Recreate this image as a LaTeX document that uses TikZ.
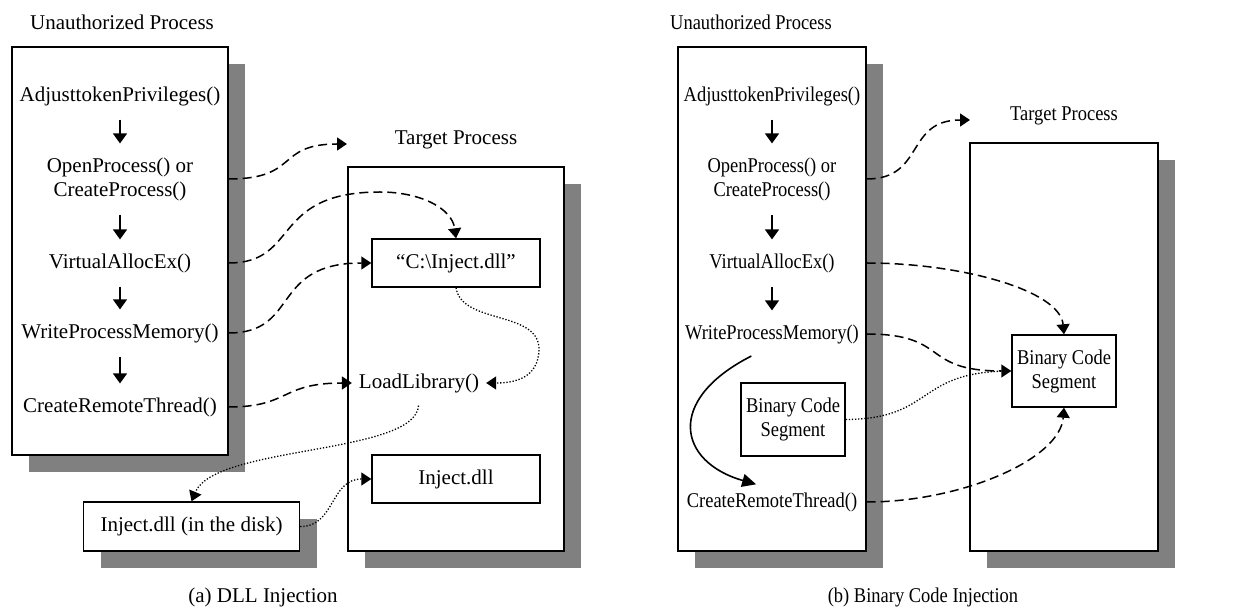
\documentclass[tikz,border=0pt]{standalone}
\usepackage{fontspec}
\setmainfont{Liberation Serif}
\newfontfamily\narrowfont[FakeStretch=0.88]{Liberation Serif}
\usepackage{tikz}
\usetikzlibrary{positioning, arrows.meta, shadows}
\tikzset{
  procbox/.style={rectangle, draw=black, line width=0.7pt, fill=white,
                  drop shadow={shadow xshift=8.5pt, shadow yshift=-8.5pt,
                               fill=black!50, opacity=1}},
  segbox/.style={rectangle, draw=black, line width=0.7pt, fill=white,
                 align=center, inner sep=2pt},
  call/.style={align=center},
  flow/.style={-{Triangle[length=5pt, width=7pt]}, line width=0.75pt,
               shorten <=3.5pt, shorten >=3.5pt},
  inj/.style={-{Triangle[length=5pt, width=6.5pt]}, line width=0.75pt,
              dash pattern=on 4.5pt off 2.5pt},
  ld/.style={-{Triangle[length=5pt, width=6.5pt]}, line width=0.65pt,
             dash pattern=on 0.65pt off 0.9pt},
}

\begin{document}
\begin{tikzpicture}[x=0.5pt, y=-0.5pt,
                    every node/.style={font=\fontsize{10.5}{12}\selectfont}]
    \useasboundingbox (0,0) rectangle (1242,608);

    % (a) DLL injection
    \node[procbox, minimum width=108pt, minimum height=204pt] (unauthA) at (120,251) {};
    \node (lblA) at (122,22) {Unauthorized Process};
    \node[procbox, minimum width=108pt, minimum height=192pt] (targetA) at (456,359) {};
    \node[above=5pt of targetA] (tlblA) {Target Process};

    \node[call] (adjA) at (120,96) {AdjusttokenPrivileges()};
    \node[call] (openA) at (120,179) {OpenProcess() or\\CreateProcess()};
    \node[call] (allocA) at (120,263) {VirtualAllocEx()};
    \node[call] (writeA) at (120,333) {WriteProcessMemory()};
    \node[call] (threadA) at (120,407) {CreateRemoteThread()};
    \draw[flow] (adjA) -- (openA);
    \draw[flow] (openA) -- (allocA);
    \draw[flow] (allocA) -- (writeA);
    \draw[flow] (writeA) -- (threadA);

    \node[segbox, minimum width=84pt, minimum height=24pt] (dllpath) at (456,263)
          {“C:\textbackslash Inject.dll”};
    \node (loadlib) at (419,383) {LoadLibrary()};
    \node[segbox, minimum width=84pt, minimum height=24pt] (dllmem) at (456,479) {Inject.dll};
    \node[segbox, minimum width=108pt, minimum height=24.5pt,
          drop shadow={shadow xshift=8.5pt, shadow yshift=-8.5pt, fill=black!50, opacity=1}]
          (dlldisk) at (191.5,526.5) {Inject.dll (in the disk)};

    \coordinate (openTipA) at (347,144);
    \draw[inj] (unauthA.east |- openA) .. controls (300,179) and (275,144) .. (openTipA);
    \draw[inj] (unauthA.east |- allocA) .. controls (300,263) and (270,192) .. (380,192)
               .. controls (420,192) and (452,208) .. (dllpath.north);
    \draw[inj] (unauthA.east |- writeA) .. controls (300,333) and (270,263) .. (dllpath.west);
    \draw[inj] (unauthA.east |- threadA) .. controls (290,407) and (280,383) .. (loadlib.west);

    \draw[ld] (dllpath.south) .. controls (462,325) and (540,310) .. (539,350)
              .. controls (538,378) and (515,383) .. (loadlib.east);
    \draw[ld, shorten <=3pt] (loadlib.south) .. controls (415,455) and (215,445) .. (dlldisk.north);
    \draw[ld] (dlldisk.east) .. controls (335,527) and (330,479) .. (dllmem.west);

    \node (capA) at (263,597) {(a) DLL Injection};

    % (b) binary code injection, set a little narrower
    \begin{scope}[every node/.style={font=\narrowfont\fontsize{10.5}{12}\selectfont}]
    \node[procbox, minimum width=94pt, minimum height=252pt] (unauthB) at (772,299) {};
    \node (lblB) at (751,22) {Unauthorized Process};
    \node[procbox, minimum width=94pt, minimum height=204pt] (targetB) at (1064,347) {};
    \node[above=5pt of targetB] (tlblB) {Target Process};

    \node[call] (adjB) at (772,96) {AdjusttokenPrivileges()};
    \node[call] (openB) at (772,179) {OpenProcess() or\\CreateProcess()};
    \node[call] (allocB) at (772,263) {VirtualAllocEx()};
    \node[call] (writeB) at (772,334) {WriteProcessMemory()};
    \node[call] (threadB) at (772,502) {CreateRemoteThread()};
    \draw[flow] (adjB) -- (openB);
    \draw[flow] (openB) -- (allocB);
    \draw[flow] (allocB) -- (writeB);

    \node[segbox, minimum width=52pt, minimum height=36.5pt] (codeB) at (793,419.5)
          {Binary Code\\Segment};
    \node[segbox, minimum width=52pt, minimum height=36pt] (codeT) at (1064,371)
          {Binary Code\\Segment};

    \draw[-{Triangle[length=7pt, width=6.5pt]}, line width=0.8pt, shorten <=6pt, shorten >=2pt]
         ([xshift=-5pt]writeB.south) .. controls (665,400) and (678,462) .. ([xshift=-6pt]threadB.north);

    \coordinate (openTipB) at (970,120);
    \draw[inj] (unauthB.east |- openB) .. controls (925,179) and (905,120) .. (openTipB);
    \draw[inj] (unauthB.east |- allocB) .. controls (960,263) and (1060,290) .. (codeT.north);
    \draw[inj] (unauthB.east |- writeB) .. controls (950,334) and (920,371) .. (codeT.west);
    \draw[ld, -] (codeB.east) .. controls (935,419) and (915,371) .. (codeT.west);
    \draw[inj] (unauthB.east |- threadB) .. controls (960,502) and (1060,460) .. (codeT.south);

    \node (capB) at (923,597) {(b) Binary Code Injection};
    \end{scope}
\end{tikzpicture}
\end{document}
